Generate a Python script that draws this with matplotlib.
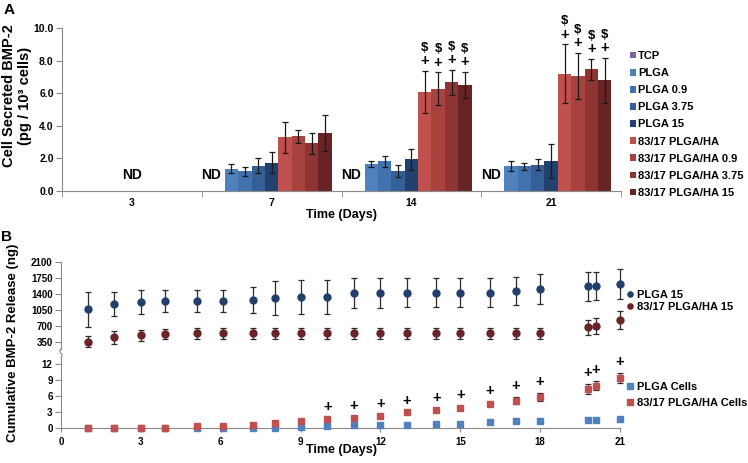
import numpy as np
import matplotlib.pyplot as plt
from matplotlib.lines import Line2D

plt.rcParams['font.family'] = ['Liberation Sans', 'DejaVu Sans']
plt.rcParams['font.weight'] = 'bold'

# ---- panel A data: cell secreted BMP-2 (pg / 10^3 cells) ----
days_a = ['3', '7', '14', '21']
groups = ['TCP', 'PLGA', 'PLGA 0.9', 'PLGA 3.75', 'PLGA 15',
          '83/17 PLGA/HA', '83/17 PLGA/HA 0.9', '83/17 PLGA/HA 3.75', '83/17 PLGA/HA 15']
colors_a = ['#8064A2', '#4F81BD', '#4272AE', '#345F97', '#23416E',
            '#C0504D', '#A8423F', '#8E3432', '#682425']
nd = np.nan
means_a = [
    [nd, nd, nd, nd],
    [nd, 1.38, 1.65, 1.53],
    [nd, 1.22, 1.82, 1.51],
    [nd, 1.55, 1.24, 1.61],
    [nd, 1.73, 1.94, 1.82],
    [nd, 3.30, 6.10, 7.22],
    [nd, 3.37, 6.29, 7.08],
    [nd, 2.92, 6.67, 7.47],
    [nd, 3.57, 6.53, 6.80],
]
errs_a = [
    [0, 0, 0, 0],
    [0, 0.28, 0.17, 0.29],
    [0, 0.28, 0.33, 0.22],
    [0, 0.45, 0.38, 0.33],
    [0, 0.65, 0.65, 1.04],
    [0, 0.97, 1.29, 1.80],
    [0, 0.40, 1.00, 1.43],
    [0, 0.67, 0.79, 0.63],
    [0, 1.12, 0.79, 1.40],
]
# groups / days marked with "$" and "+"
sig_groups = [5, 6, 7, 8]
sig_days = [2, 3]

# ---- panel B data: cumulative BMP-2 release ----
t_b = [1, 2, 3, 3.9, 5.1, 6.1, 7.2, 8.05, 9, 10, 11, 12, 13, 14.1, 15, 16.1, 17.1, 18, 19.8, 20.1, 21]
plga15 = [1072, 1188, 1225, 1253, 1253, 1253, 1275, 1319, 1341, 1341, 1420, 1430,
          1436, 1436, 1436, 1436, 1479, 1523, 1581, 1581, 1632]
plga15_err = [379, 262, 266, 244, 244, 244, 280, 364, 372, 372, 328, 320,
              324, 324, 324, 324, 310, 332, 317, 310, 324]
ha15 = [365, 460, 505, 525, 547, 547, 547, 547, 547, 547, 547, 547,
        547, 547, 547, 547, 547, 547, 678, 713, 838]
ha15_err = [124, 146, 117, 109, 124, 124, 124, 124, 124, 124, 124, 124,
            124, 124, 124, 124, 124, 124, 168, 175, 200]
plga_cells = [0, 0, 0, 0, 0, 0, 0, 0.1, 0.25, 0.45, 0.6, 0.6, 0.67, 0.9, 0.9,
              1.1, 1.33, 1.45, 1.64, 1.64, 1.82]
ha_cells = [0, 0, 0.1, 0.1, 0.35, 0.35, 0.7, 0.97, 1.33, 1.76, 2.0, 2.36, 2.97,
            3.5, 3.88, 4.55, 5.2, 5.8, 7.4, 8.0, 9.4]
ha_cells_err = [0, 0, 0.05, 0.05, 0.1, 0.1, 0.1, 0.1, 0.1, 0.12, 0.15, 0.15, 0.15,
                0.15, 0.2, 0.35, 0.7, 0.75, 0.9, 0.9, 0.97]
plus_from = 9  # index of first day marked with "+"

W, H = 748, 463
def fx(px):
    return px / W
def fy(py):
    return 1 - py / H

fig = plt.figure(figsize=(7.48, 4.63), dpi=100)
grey = '#8A8A8A'

# ================= panel A =================
axA = fig.add_axes([fx(62), fy(191), fx(621) - fx(62), fy(28.3) - fy(191)])
x = np.arange(len(days_a))
w = 0.0958
bars = []
for i, g in enumerate(groups):
    pos = x + (i - 4) * w
    b = axA.bar(pos, np.nan_to_num(means_a[i]), w, color=colors_a[i], label=g)
    bars.append(b)
    m = np.array(means_a[i])
    ok = ~np.isnan(m)
    axA.errorbar(pos[ok], m[ok], yerr=np.array(errs_a[i])[ok], fmt='none',
                 ecolor='#1A1A1A', elinewidth=0.9, capsize=2.4, capthick=0.9)

# ND labels
for d in range(len(days_a)):
    col = [means_a[i][d] for i in range(len(groups))]
    if all(np.isnan(c) for c in col):
        axA.text(x[d], 0.55, 'ND', ha='center', va='bottom', fontsize=10, fontweight='bold')
    elif np.isnan(col[0]):
        axA.text(x[d] - 4.5 * w, 0.55, 'ND', ha='center', va='bottom', fontsize=10, fontweight='bold')

for i in sig_groups:
    for d in sig_days:
        top = means_a[i][d] + errs_a[i][d]
        axA.annotate('+', (x[d] + (i - 4) * w, top), xytext=(0, 7), textcoords='offset points',
                     ha='center', va='center', fontsize=10.5, fontweight='bold')
        axA.annotate('$', (x[d] + (i - 4) * w, top), xytext=(0, 16.5), textcoords='offset points',
                     ha='center', va='center', fontsize=9.5, fontweight='bold')

axA.set_xlim(-0.5, len(days_a) - 0.5)
axA.set_ylim(0, 10)
axA.set_yticks(np.arange(0, 10.1, 2))
axA.set_yticklabels(['%.1f' % v for v in np.arange(0, 10.1, 2)])
axA.set_xticks(x)
axA.set_xticklabels(days_a)
axA.set_xticks(np.arange(-0.5, len(days_a)), minor=True)
axA.tick_params(axis='x', which='major', length=0, pad=5, labelsize=7.5)
axA.tick_params(axis='x', which='minor', length=4, color=grey, direction='out')
axA.tick_params(axis='y', length=4, color=grey, labelsize=7.5, pad=2)
for s in ['top', 'right']:
    axA.spines[s].set_visible(False)
for s in ['left', 'bottom']:
    axA.spines[s].set_color(grey)
    axA.spines[s].set_linewidth(0.8)
for lab in axA.get_xticklabels() + axA.get_yticklabels():
    lab.set_fontweight('bold')

axA.legend(handles=bars, loc='upper left', bbox_to_anchor=(fx(630), fy(51)),
           bbox_transform=fig.transFigure, frameon=False, fontsize=8,
           handlelength=0.55, handleheight=0.55, handletextpad=0.15,
           labelspacing=0.64, borderpad=0, borderaxespad=0)

fig.text(fx(17), fy(96), 'Cell Secreted BMP-2\n(pg / 10³ cells)', rotation=90,
         ha='center', va='center', fontsize=10.5, fontweight='bold', linespacing=1.2)
fig.text(fx(342), fy(215), 'Time (Days)', ha='center', va='center', fontsize=9, fontweight='bold')
fig.text(fx(9), fy(10), 'A', ha='center', va='center', fontsize=11, fontweight='bold')

# ================= panel B =================
break_px = 353.3
axU = fig.add_axes([fx(61), fy(break_px), fx(620) - fx(61), fy(262.3) - fy(break_px)])
axL = fig.add_axes([fx(61), fy(428.3), fx(620) - fx(61), fy(break_px) - fy(428.3)], sharex=axU)

u_lo = 350 - (break_px - 342.3) * 350 / 16
l_hi = (428.3 - break_px) * 3 / 16
axU.set_ylim(u_lo, 2100)
axL.set_ylim(0, l_hi)
axU.set_xlim(0, 21)

navy = '#22406B'
maroon = '#6A2326'
axU.errorbar(t_b, plga15, yerr=plga15_err, fmt='none', ecolor='#2B2B2B',
             elinewidth=0.9, capsize=2.4, capthick=0.9, clip_on=False)
axU.errorbar(t_b, ha15, yerr=ha15_err, fmt='none', ecolor='#2B2B2B',
             elinewidth=0.9, capsize=2.4, capthick=0.9, clip_on=False)
h1, = axU.plot(t_b, plga15, 'o', color=navy, ms=5, label='PLGA 15', clip_on=False)
h2, = axU.plot(t_b, ha15, 'o', color=maroon, ms=5, label='83/17 PLGA/HA 15', clip_on=False)

h3, = axL.plot(t_b, plga_cells, 's', color='#4F81BD', ms=4.8, label='PLGA Cells', clip_on=False, zorder=3)
axL.errorbar(t_b, ha_cells, yerr=ha_cells_err, fmt='none', ecolor='#2B2B2B',
             elinewidth=0.9, capsize=2.4, capthick=0.9, clip_on=False, zorder=3.5)
h4, = axL.plot(t_b, ha_cells, 's', color='#C0504D', ms=4.8, label='83/17 PLGA/HA Cells',
               clip_on=False, zorder=4)
for t, v, e in list(zip(t_b, ha_cells, ha_cells_err))[plus_from:]:
    axL.annotate('+', (t, v + e), xytext=(0, 8), textcoords='offset points',
                 ha='center', va='center', fontsize=10.5, fontweight='bold', annotation_clip=False)

axU.set_yticks([350, 700, 1050, 1400, 1750, 2100])
axL.set_yticks([0, 3, 6, 9, 12])
axL.set_xticks(np.arange(0, 22, 3))
for ax in (axU, axL):
    for s in ['top', 'right']:
        ax.spines[s].set_visible(False)
    for s in ['left', 'bottom']:
        ax.spines[s].set_color(grey)
        ax.spines[s].set_linewidth(0.8)
    ax.tick_params(axis='y', length=4, color=grey, labelsize=7, pad=2)
    for lab in ax.get_yticklabels() + ax.get_xticklabels():
        lab.set_fontweight('bold')
axU.spines['bottom'].set_visible(False)
axU.tick_params(axis='x', bottom=False, labelbottom=False)
axL.tick_params(axis='x', length=3, color=grey, labelsize=7, pad=3)
axU.spines['left'].set_bounds(350 - (349 - 342.3) * 350 / 16, 2100)
axL.spines['left'].set_bounds(0, (428.3 - 357.5) * 3 / 16)

# axis break squiggle
sx = [fx(61), fx(59.6), fx(61), fx(62.4), fx(61)]
sy = [fy(349), fy(351), fy(353.3), fy(355.5), fy(357.5)]
fig.add_artist(Line2D(sx, sy, color=grey, lw=0.8))

axU.legend(handles=[h1, h2], loc='center left', bbox_to_anchor=(fx(627), fy(301)),
           bbox_transform=fig.transFigure, frameon=False, fontsize=8, markerscale=0.75,
           handlelength=0.6, handletextpad=0.3, labelspacing=0.2, borderpad=0, borderaxespad=0)
axL.legend(handles=[h3, h4], loc='center left', bbox_to_anchor=(fx(627), fy(395)),
           bbox_transform=fig.transFigure, frameon=False, fontsize=8, markerscale=1.0,
           handlelength=0.6, handletextpad=0.3, labelspacing=0.5, borderpad=0, borderaxespad=0)

fig.text(fx(13), fy(343), 'Cumulative BMP-2 Release (ng)', rotation=90,
         ha='center', va='center', fontsize=9.5, fontweight='bold')
fig.text(fx(342), fy(450), 'Time (Days)', ha='center', va='center', fontsize=9, fontweight='bold')
fig.text(fx(7), fy(237), 'B', ha='center', va='center', fontsize=11, fontweight='bold')

fig.savefig('out.png', dpi=100)
